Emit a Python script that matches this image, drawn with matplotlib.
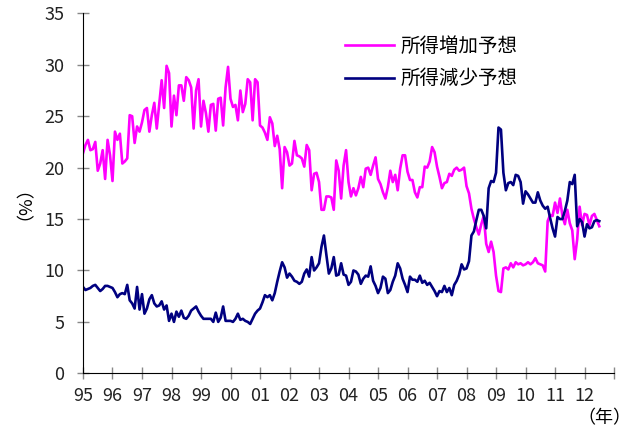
import numpy as np
import matplotlib
matplotlib.use("Agg")
import matplotlib.pyplot as plt

plt.rcParams['font.family'] = ['Noto Sans CJK JP', 'DejaVu Sans']

# 月次データ 1995年1月〜2012年7月
start_year = 1995
inc = [21.4, 22.2, 22.7, 21.7, 21.8, 22.5, 19.7, 20.4, 21.7, 18.9, 22.7, 21.2,
       18.7, 23.5, 22.7, 23.3, 20.4, 20.6, 20.9, 25.1, 25.0, 22.4, 24.0, 23.5,
       24.4, 25.6, 25.8, 23.5, 25.1, 26.3, 23.8, 26.1, 28.5, 25.8, 29.9, 29.2,
       24.0, 27.0, 25.1, 28.0, 28.0, 26.5, 28.8, 28.5, 27.8, 23.8, 27.5, 28.6,
       24.0, 26.5, 25.3, 23.5, 26.1, 26.2, 23.6, 26.7, 26.8, 24.1, 27.8, 29.8,
       26.7, 25.9, 26.1, 24.6, 27.5, 25.4, 26.2, 28.6, 28.3, 24.6, 28.6, 28.3,
       24.1, 23.9, 23.4, 22.7, 24.9, 24.3, 22.1, 23.1, 21.8, 18.0, 22.0, 21.5,
       20.2, 20.4, 22.6, 21.2, 21.1, 20.9, 20.1, 22.2, 21.7, 17.8, 19.4, 19.5,
       18.6, 15.9, 15.9, 17.2, 17.2, 17.1, 15.9, 20.7, 19.7, 17.0, 20.2, 21.7,
       18.6, 17.2, 18.0, 17.3, 18.0, 19.1, 18.1, 19.9, 20.0, 19.3, 20.2, 21.0,
       18.9, 18.4, 17.6, 17.0, 18.1, 19.7, 18.6, 19.3, 17.8, 19.9, 21.2, 21.2,
       19.6, 18.8, 18.8, 17.6, 17.1, 18.1, 18.1, 20.1, 20.0, 20.6, 22.0, 21.5,
       20.1, 19.1, 18.0, 18.5, 18.6, 19.4, 19.2, 19.8, 20.0, 19.7, 19.8, 20.0,
       18.2, 17.5, 16.0, 15.0, 14.2, 13.5, 14.5, 15.3, 12.6, 11.8, 12.8, 11.8,
       9.5, 8.0, 7.9, 10.2, 10.3, 10.1, 10.7, 10.3, 10.8, 10.6, 10.7, 10.5,
       10.6, 10.8, 10.6, 10.8, 11.2, 10.7, 10.6, 10.5, 9.9, 14.8, 15.4, 15.3,
       16.6, 15.6, 17.0, 15.3, 14.5, 15.9, 14.6, 13.9, 11.1, 13.0, 16.2, 14.4,
       15.5, 15.4, 14.4, 15.3, 15.5, 14.9, 14.3]
dec = [8.4, 8.1, 8.2, 8.3, 8.5, 8.6, 8.3, 8.0, 8.2, 8.5, 8.5, 8.4,
       8.3, 7.9, 7.4, 7.7, 7.8, 7.7, 8.6, 7.1, 6.8, 6.3, 8.4, 6.2,
       7.7, 5.8, 6.3, 7.2, 7.6, 6.8, 6.5, 6.6, 7.0, 6.2, 6.6, 5.1,
       5.8, 5.0, 6.0, 5.5, 6.1, 5.4, 5.3, 5.6, 6.1, 6.3, 6.5, 6.0,
       5.6, 5.3, 5.3, 5.3, 5.3, 5.0, 5.9, 5.0, 5.4, 6.5, 5.1, 5.1,
       5.1, 5.0, 5.3, 5.8, 5.2, 5.3, 5.1, 5.0, 4.8, 5.3, 5.8, 6.1,
       6.3, 6.9, 7.6, 7.4, 7.6, 7.1, 7.8, 8.9, 9.9, 10.8, 10.3, 9.3,
       9.7, 9.4, 9.0, 8.9, 8.7, 8.9, 9.7, 10.1, 9.4, 11.3, 10.0, 10.3,
       10.7, 12.3, 13.4, 11.5, 9.7, 10.2, 11.3, 9.5, 9.6, 10.7, 9.6, 9.5,
       8.6, 8.9, 10.0, 9.9, 9.6, 8.7, 9.2, 9.5, 9.4, 10.4, 9.0, 8.5,
       7.8, 8.3, 9.4, 9.2, 7.8, 8.1, 8.9, 9.5, 10.7, 10.2, 9.2, 8.6,
       7.9, 9.4, 9.1, 9.1, 8.9, 9.5, 8.8, 9.0, 8.6, 8.8, 8.4, 8.0,
       7.5, 8.0, 7.9, 8.5, 7.9, 8.3, 7.6, 8.6, 9.0, 9.6, 10.6, 10.1,
       10.2, 10.9, 13.4, 13.8, 14.9, 15.9, 15.9, 15.3, 14.1, 18.0, 18.7, 18.6,
       19.5, 23.9, 23.7, 19.5, 17.8, 18.5, 18.6, 18.3, 19.3, 19.2, 18.6, 16.5,
       17.7, 17.4, 17.0, 16.6, 16.6, 17.6, 16.8, 16.3, 16.0, 16.2, 15.1, 14.1,
       13.3, 15.2, 15.0, 15.0, 15.8, 16.8, 18.6, 18.4, 19.3, 14.3, 15.0, 14.7,
       13.3, 14.5, 14.1, 14.2, 14.8, 14.9, 14.8]
year_labels = ['95', '96', '97', '98', '99', '00', '01', '02', '03',
               '04', '05', '06', '07', '08', '09', '10', '11', '12']

x = start_year + np.arange(len(inc)) / 12.0

fig = plt.figure(figsize=(6.35, 4.29), dpi=100)
ax = fig.add_axes([0.1307, 0.1298, 0.8363, 0.839])

ax.plot(x, inc, color='#FF00FF', lw=1.9, label='所得増加予想')
ax.plot(x, dec, color='#000080', lw=1.9, label='所得減少予想')

ax.set_xlim(1995, 2013)
ax.set_ylim(0, 35)
ax.set_yticks(range(0, 36, 5))
ax.set_xticks(range(1995, 2014))
ax.set_xticklabels(year_labels + [''])
ax.tick_params(axis='both', labelsize=13, colors='#222222', labelcolor='#222222')
ax.tick_params(axis='y', direction='inout', length=9, width=1, color='#888888', pad=9)
ax.tick_params(axis='x', direction='inout', length=8, width=1, color='#888888', pad=6)
ax.spines['top'].set_visible(False)
ax.spines['right'].set_visible(False)
ax.spines['left'].set_color('black')
ax.spines['bottom'].set_color('black')

ax.set_ylabel('（%）', fontsize=13, labelpad=14)
fig.text(0.995, 0.005, '（年）', fontsize=13, ha='right', va='bottom')

leg = ax.legend(loc='upper left', bbox_to_anchor=(0.475, 0.965), frameon=False,
                fontsize=14, handlelength=2.5, handletextpad=0.35, labelspacing=0.6,
                borderpad=0)

fig.savefig('out.png', dpi=100)
